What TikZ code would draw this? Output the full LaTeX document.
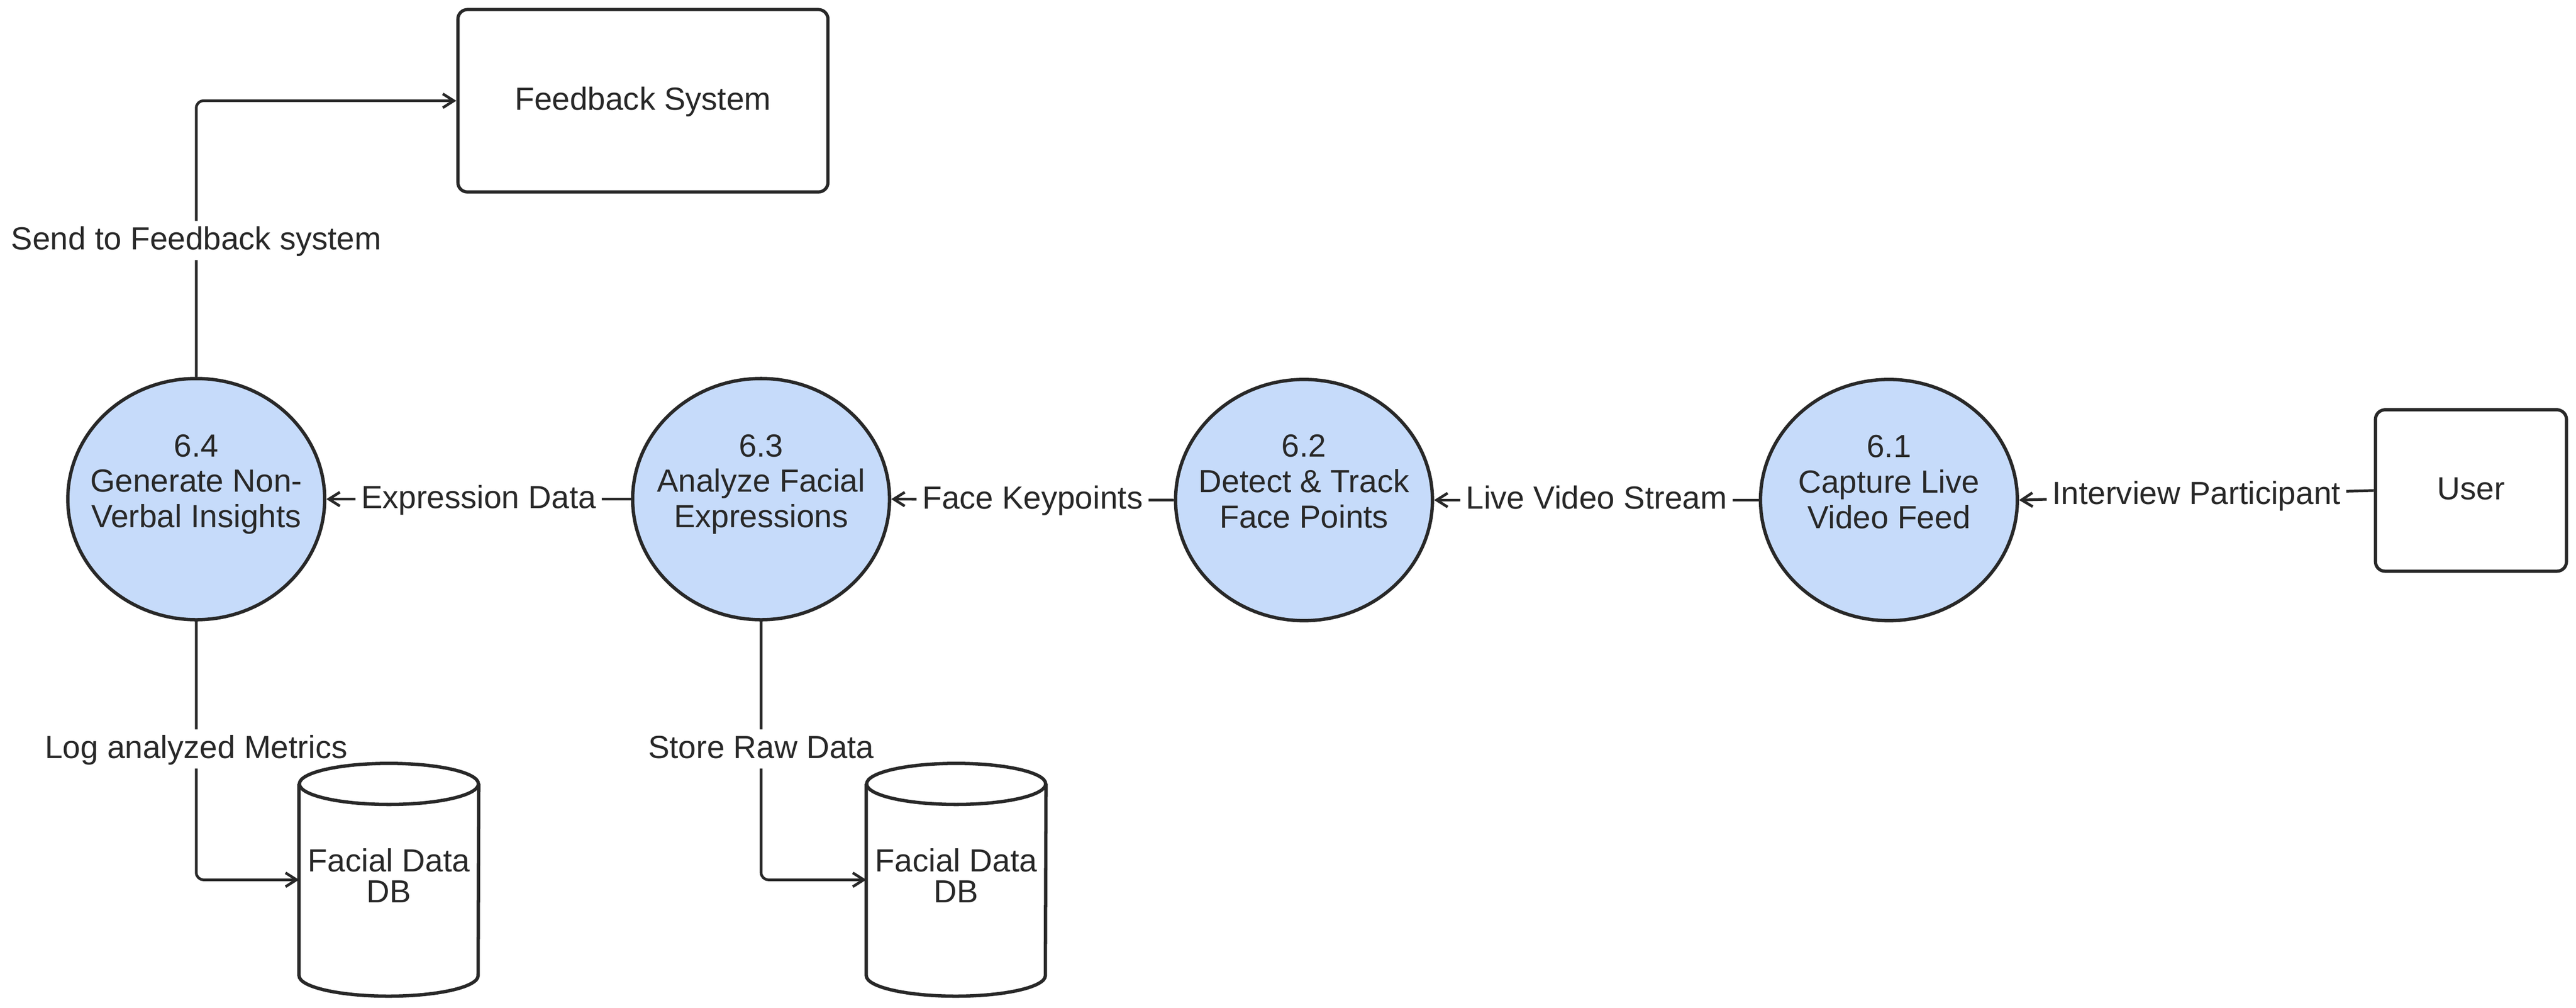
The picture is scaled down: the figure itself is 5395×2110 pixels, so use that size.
\documentclass[tikz,border=0pt]{standalone}
\usepackage{fontspec}
\setmainfont{Liberation Sans}
\usetikzlibrary{arrows.meta,shapes.geometric}
\definecolor{ink}{RGB}{40,40,40}
\definecolor{procfill}{RGB}{198,219,250}
\begin{document}
\begin{tikzpicture}[x=0.1mm,y=-0.1mm,
  every node/.style={text=ink},
  txt/.style={font=\fontsize{19.07pt}{21.05pt}\selectfont},
  proc/.style={ellipse, draw=ink, line width=2pt, fill=procfill,
    minimum width=53.8mm, minimum height=50.5mm, inner sep=0pt},
  ptext/.style={txt, align=center, anchor=base, inner sep=0pt},
  ext/.style={txt, rectangle, draw=ink, line width=1.9pt, rounded corners=2mm,
    fill=white, text height=4.8mm, text depth=1.0mm},
  dbbox/.style={rectangle, minimum width=37.5mm, minimum height=48.6mm, inner sep=0pt,
    font=\fontsize{19.07pt}{18.5pt}\selectfont, align=center, text depth=1.8mm},
  dbline/.style={draw=ink, line width=2pt},
  flow/.style={draw=ink, line width=1.6pt, rounded corners=1.5mm,
    -{Straight Barb[length=2.3mm,width=2.9mm]}},
  lbl/.style={txt, fill=white, inner sep=1.2mm, text height=4.8mm, text depth=1.0mm}
]
\useasboundingbox (0,0) rectangle (5395,2110);

% external entities
\node[ext, minimum width=77.5mm, minimum height=38.2mm] (fb) at (1346.5,211) {Feedback System};
\node[ext, minimum width=40mm, minimum height=33.8mm] (user) at (5175,1027) {User};

% processes
\node[proc] (p4) at (411,1045) {};
\node[proc] (p3) at (1594,1045) {};
\node[proc] (p2) at (2731,1047) {};
\node[proc] (p1) at (3956,1047) {};
\node[ptext] (p4t) at (411,1104) {6.4\\Generate Non-\\Verbal Insights};
\node[ptext] (p3t) at (1594,1104) {6.3\\Analyze Facial\\Expressions};
\node[ptext] (p2t) at (2731,1105) {6.2\\Detect \& Track\\Face Points};
\node[ptext] (p1t) at (3956,1106) {6.1\\Capture Live\\Video Feed};

% data stores (text holders)
\node[dbbox] (db1) at (814.5,1842) {Facial Data\\DB};
\node[dbbox] (db2) at (2002.5,1842) {Facial Data\\DB};

% flows
\draw[flow] (user.west) -- node[lbl, midway] {Interview Participant} (p1.east);
\draw[flow] (p1.west) -- node[lbl, midway] {Live Video Stream} (p2.east);
\draw[flow] (p2.west) -- node[lbl, midway] {Face Keypoints} (p3.east);
\draw[flow] (p3.west) -- node[lbl, midway] {Expression Data} (p4.east);
\draw[flow] (p4.north) |- node[lbl, pos=0.247] {Send to Feedback system} (fb.west);
\draw[flow] (p4.south) |- node[lbl, pos=0.247] {Log analyzed Metrics} (db1.west);
\draw[flow] (p3.south) |- node[lbl, pos=0.247] {Store Raw Data} (db2.west);

% data store outlines (drawn last so that label fills do not hide them)
\foreach \d in {db1,db2}{
  \draw[dbline] ([yshift=-4.3mm]\d.north west) -- ([yshift=4.3mm]\d.south west)
    arc[start angle=180, end angle=360, x radius=18.75mm, y radius=4.3mm]
    -- ([yshift=-4.3mm]\d.north east);
  \draw[dbline] ([yshift=-4.3mm]\d.north) ellipse[x radius=18.75mm, y radius=4.3mm];
}
\end{tikzpicture}
\end{document}
